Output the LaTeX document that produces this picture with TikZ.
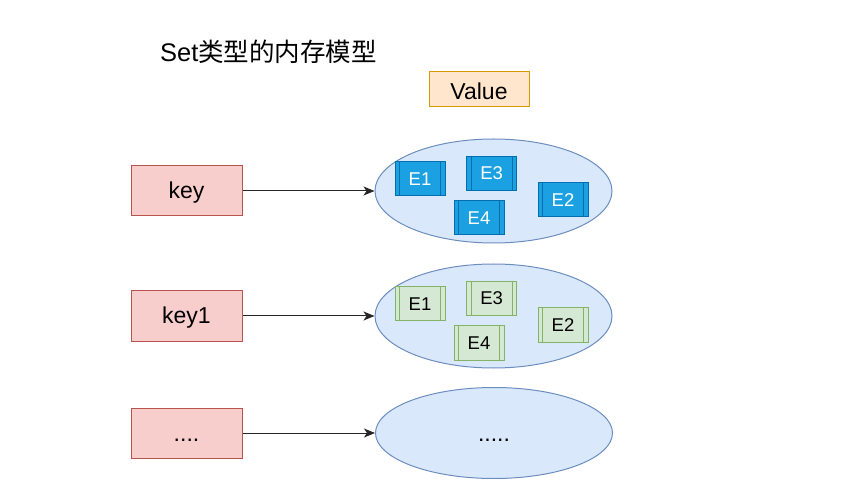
\documentclass[tikz,border=0pt]{standalone}
\usepackage{fontspec}
\setmainfont{Liberation Sans}
\newfontfamily\cjk{Noto Sans CJK SC}
\usetikzlibrary{arrows.meta,shapes.geometric}
\definecolor{keyfill}{HTML}{F8CECC}
\definecolor{keydraw}{HTML}{B85450}
\definecolor{valfill}{HTML}{FFE6CC}
\definecolor{valdraw}{HTML}{D79B00}
\definecolor{ellfill}{HTML}{DAE8FC}
\definecolor{elldraw}{HTML}{6C8EBF}
\definecolor{bluefill}{HTML}{1BA1E2}
\definecolor{bluedraw}{HTML}{006EAF}
\definecolor{greenfill}{HTML}{D5E8D4}
\definecolor{greendraw}{HTML}{82B366}
\tikzset{
  keybox/.style={draw=keydraw,fill=keyfill,line width=1pt,minimum width=111pt,minimum height=50pt,inner sep=0pt,font=\fontsize{23}{26}\selectfont},
  valbox/.style={draw=valdraw,fill=valfill,line width=1pt,minimum width=100pt,minimum height=35pt,inner sep=0pt,font=\fontsize{23}{26}\selectfont},
  setell/.style={ellipse,draw=elldraw,fill=ellfill,line width=1pt,minimum width=237pt,minimum height=104pt,inner sep=0pt},
  ebox/.style={minimum width=50pt,minimum height=34pt,inner sep=0pt,line width=1pt,font=\fontsize{18.5}{20}\selectfont},
  eblue/.style={ebox,draw=bluedraw,fill=bluefill,text=white},
  egreen/.style={ebox,draw=greendraw,fill=greenfill,text=black},
  lbl/.style={inner sep=0pt,font=\fontsize{23}{26}\selectfont},
  link/.style={line width=1pt,draw=black!85,-{Stealth[length=11pt,width=9pt,inset=3pt]}}
}
\newcommand{\procbars}[2]{%
  \draw[line width=1pt,#2] ([xshift=5pt]#1.north west) -- ([xshift=5pt]#1.south west);
  \draw[line width=1pt,#2] ([xshift=-5pt]#1.north east) -- ([xshift=-5pt]#1.south east);}
\begin{document}
\begin{tikzpicture}[x=1pt,y=-1pt]
\useasboundingbox (0,0) rectangle (854,494);
\node[anchor=west,inner sep=0pt,font=\fontsize{25.5}{28}\selectfont] (title) at (160,52) {Set{\cjk 类型的内存模型}};
\node[valbox] (value) at (479,89.5) {};
\node[lbl] (valuet) at (479,91) {Value};
% row 1
\node[keybox] (k1) at (186.5,191) {};
\node[lbl] (k1t) at (186.5,193) {key};
\node[setell] (s1) at (493.5,191) {};
\draw[link] (k1.east) -- (s1.west);
\node[eblue] (a1) at (420,179) {E1};
\node[eblue] (a3) at (491.7,173.3) {E3};
\node[eblue] (a2) at (563,200) {E2};
\node[eblue] (a4) at (479,218) {E4};
\foreach \n in {a1,a2,a3,a4} {\procbars{\n}{bluedraw}}
% row 2
\node[keybox] (k2) at (186.5,316) {};
\node[lbl] (k2t) at (186.5,318) {key1};
\node[setell] (s2) at (493.5,316) {};
\draw[link] (k2.east) -- (s2.west);
\node[egreen] (b1) at (420,304) {E1};
\node[egreen] (b3) at (491.7,298.3) {E3};
\node[egreen] (b2) at (563,325) {E2};
\node[egreen] (b4) at (479,343) {E4};
\foreach \n in {b1,b2,b3,b4} {\procbars{\n}{greendraw}}
% row 3
\node[keybox] (k3) at (186.5,433) {};
\node[lbl,anchor=base] (k3t) at (186.5,441) {....};
\node[setell,minimum height=91pt] (s3) at (494,433) {};
\node[lbl,anchor=base] (s3t) at (494,441) {.....};
\draw[link] (k3.east) -- (s3.west);
\end{tikzpicture}
\end{document}
